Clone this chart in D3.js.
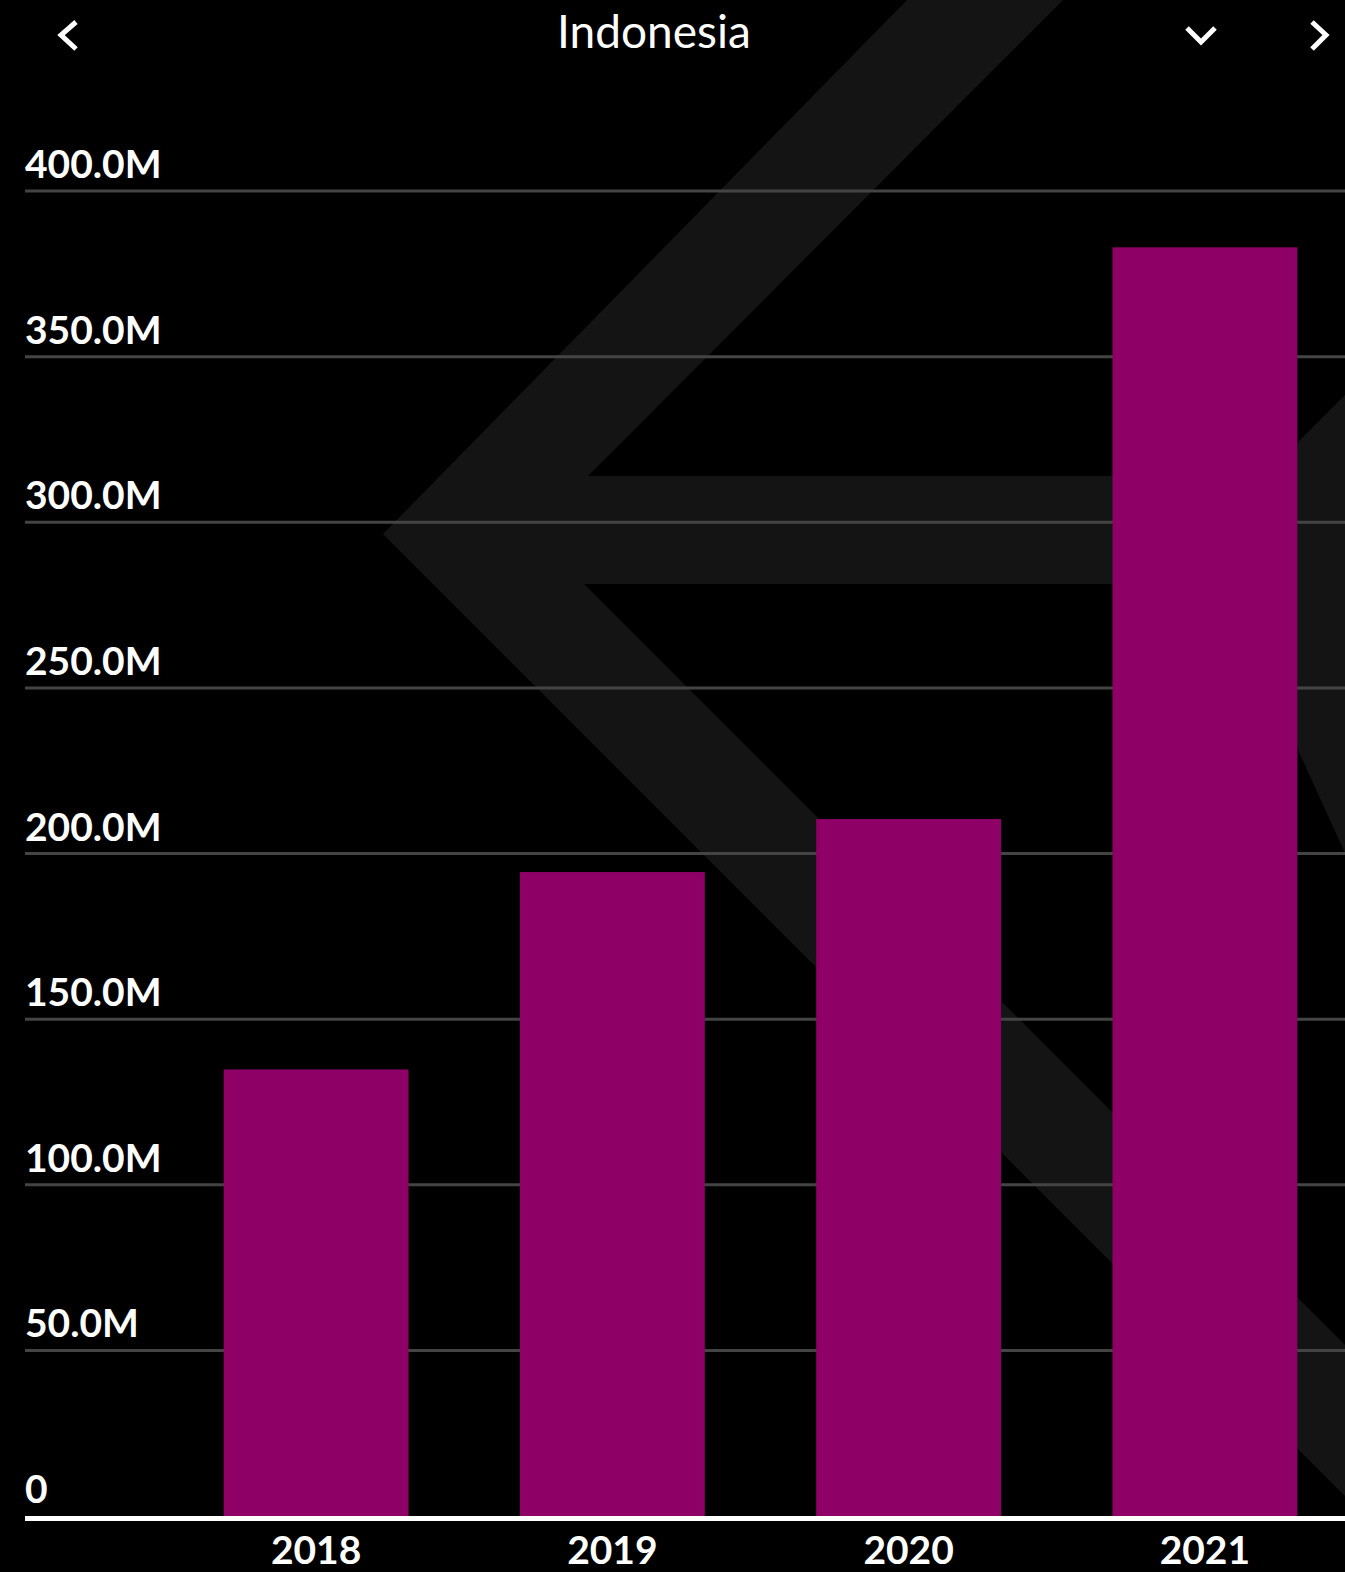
<!DOCTYPE html>
<html lang="en">
<head>
  <meta charset="UTF-8">
  <title>Indonesia</title>
  <script src="https://d3js.org/d3.v7.min.js"></script>
  <style>
    body { margin: 0; background: #000; }
    svg { display: block; }
    text { font-family: Lato, "Noto Sans", sans-serif; fill: #fff; }
  </style>
</head>
<body>

<svg width="1345" height="1572"></svg>

<script>
  // chart data
  var years = ["2018", "2019", "2020", "2021"];
  var values = [134.8e6, 194.4e6, 210.4e6, 383.0e6];
  var yTicks = [0, 50e6, 100e6, 150e6, 200e6, 250e6, 300e6, 350e6, 400e6];
  var title = "Indonesia";

  var svg = d3.select("svg"),
      width = +svg.attr("width"),
      height = +svg.attr("height");

  var x = d3.scaleBand()
      .domain(years)
      .range([168, 1353])
      .paddingInner(0.376)
      .paddingOuter(0.188);

  var y = d3.scaleLinear()
      .domain([0, 400e6])
      .range([1516, 191]);

  // background watermark
  var wm = svg.append("g").attr("fill", "#141414");
  wm.append("polygon")
    .attr("points", "907,0 383,534 1345,1496 1345,1345 584,584 1345,584 1345,476 588,476 1063,0");
  wm.append("polygon")
    .attr("points", "1345,395 1250,490 1250,640 1298,750 1345,853");

  // grid lines + tick labels
  var grid = svg.append("g");
  grid.selectAll("line")
    .data(yTicks.filter(function(d) { return d > 0; }))
    .enter().append("line")
      .attr("x1", 25)
      .attr("x2", width)
      .attr("y1", function(d) { return y(d); })
      .attr("y2", function(d) { return y(d); })
      .attr("stroke", "#444")
      .attr("stroke-width", 3);

  var fmt = function(d) { return d === 0 ? "0" : d3.format(".1f")(d / 1e6) + "M"; };
  grid.selectAll("text")
    .data(yTicks)
    .enter().append("text")
      .attr("x", 25)
      .attr("y", function(d) { return y(d) - 13; })
      .attr("font-size", 39)
      .attr("font-weight", 700)
      .text(fmt);

  // bars
  svg.append("g").selectAll("rect")
    .data(values)
    .enter().append("rect")
      .attr("x", function(d, i) { return x(years[i]); })
      .attr("width", x.bandwidth())
      .attr("y", function(d) { return y(d); })
      .attr("height", function(d) { return y(0) - y(d); })
      .attr("fill", "#8f0067");

  // zero line
  svg.append("line")
    .attr("x1", 25)
    .attr("x2", width)
    .attr("y1", y(0) + 2.5)
    .attr("y2", y(0) + 2.5)
    .attr("stroke", "#fff")
    .attr("stroke-width", 5);

  // x labels
  svg.append("g").selectAll("text")
    .data(years)
    .enter().append("text")
      .attr("x", function(d) { return x(d) + x.bandwidth() / 2; })
      .attr("y", 1564)
      .attr("text-anchor", "middle")
      .attr("font-size", 39)
      .attr("font-weight", 700)
      .text(function(d) { return d; });

  // header
  svg.append("text")
    .attr("x", 654)
    .attr("y", 48)
    .attr("text-anchor", "middle")
    .attr("font-size", 46)
    .text(title);

  var chevrons = [
    [[76, 22], [61, 35], [76, 49]],
    [[1187, 28], [1201, 42], [1215, 28]],
    [[1312, 22], [1326, 35], [1312, 49]]
  ];
  svg.append("g").selectAll("path")
    .data(chevrons)
    .enter().append("path")
      .attr("d", d3.line())
      .attr("fill", "none")
      .attr("stroke", "#fff")
      .attr("stroke-width", 5);
</script>

</body>
</html>
